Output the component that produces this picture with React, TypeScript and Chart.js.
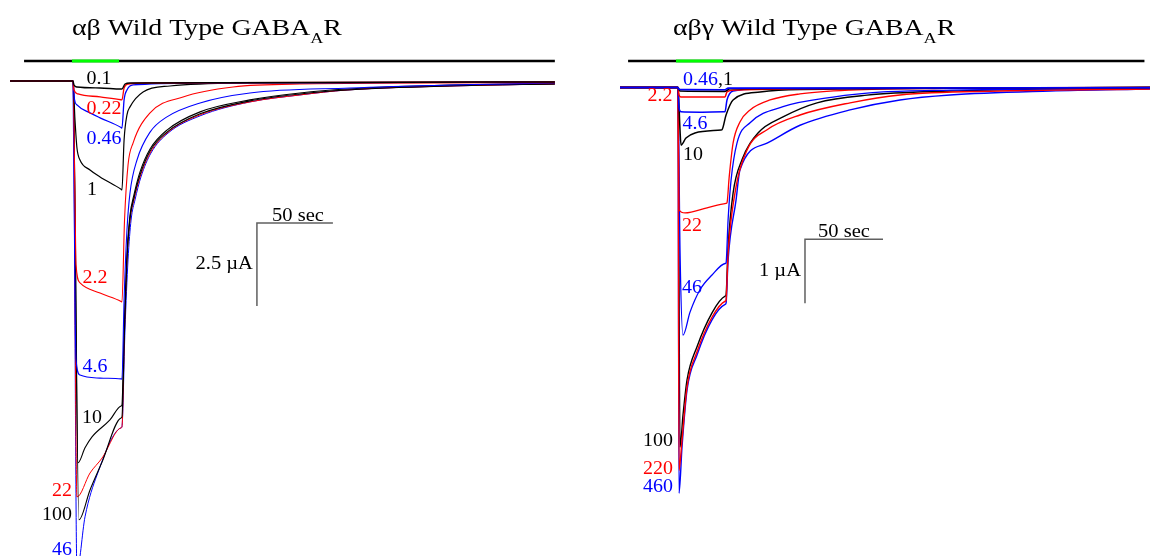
import React, { useEffect, useRef } from "react";
import { Chart, registerables } from "chart.js";

Chart.register(...registerables);

const BLACK = "#000000";
const RED = "#ff0000";
const BLUE = "#0000ff";
const GREEN = "#00ff00";
const SERIF = "'Liberation Serif', 'Times New Roman', serif";

// ---- αβ Wild Type GABA_A R : [time (s from GABA onset), current (µA)] ----
const ab_c0_1: [number, number][] = [[-41.4, 0], [0, 0], [0.66, -0.12], [2.6, -0.18], [17.8, -0.21], [31.6, -0.24], [32.2, -0.24], [34.2, -0.09], [37.5, -0.06], [317, -0.03]];
const ab_c0_22: [number, number][] = [[-41.4, 0], [0, 0], [0.66, -0.27], [3.3, -0.39], [17.8, -0.48], [31.6, -0.565], [32.2, -0.57], [33.6, -0.21], [36.2, -0.09], [50.7, -0.06], [317, -0.03]];
const ab_c0_46: [number, number][] = [[-41.4, 0], [0, 0], [1.0, -0.57], [2.6, -0.72], [11.2, -0.96], [17.8, -1.11], [31.6, -1.4], [32.2, -1.42], [33.6, -0.57], [35.5, -0.27], [39.5, -0.12], [83.6, -0.06], [317, -0.03]];
const ab_c1: [number, number][] = [[-41.4, 0], [0, 0], [1.3, -1.17], [2.6, -2.02], [4.6, -2.38], [11.2, -2.68], [17.8, -2.89], [31.6, -3.26], [32.2, -3.28], [33.6, -1.78], [35.5, -1.02], [37.5, -0.78], [46.1, -0.33], [63.8, -0.15], [116.4, -0.06], [317, -0.03]];
const ab_c2_2: [number, number][] = [[-41.4, 0], [0, 0], [1.3, -3.58], [2.0, -5.54], [4.6, -6.08], [17.8, -6.39], [31.6, -6.64], [32.2, -6.66], [33.9, -4.19], [36.2, -2.53], [39.5, -1.87], [50.7, -0.96], [72.4, -0.48], [105.3, -0.18], [149.3, -0.09], [317, -0.05]];
const ab_c4_6: [number, number][] = [[-41.4, 0], [0, 0], [1.3, -6.6], [2.0, -8.4], [4.6, -8.86], [17.8, -8.95], [31.6, -8.975], [32.2, -8.98], [33.6, -6.6], [35.5, -4.49], [37.5, -3.37], [42.1, -2.38], [50.7, -1.54], [61.8, -1.08], [83.6, -0.66], [116.4, -0.36], [182.2, -0.21], [248, -0.12], [317, -0.06]];
const ab_c10: [number, number][] = [[-41.4, 0], [0, 0], [3.3, -11.5], [7.9, -11.05], [12.5, -10.72], [24.3, -10.21], [31.6, -9.79], [32.2, -9.76], [33.6, -7.5], [35.5, -5.24], [37.5, -4.04], [40.1, -3.43], [44.1, -2.74], [50.7, -2.05], [61.8, -1.48], [83.6, -0.93], [116.4, -0.57], [149.3, -0.36], [180.3, -0.24], [248, -0.12], [317, -0.08]];
const ab_c22: [number, number][] = [[-41.4, 0], [0, 0], [2.6, -12.53], [11.2, -11.81], [19.1, -11.36], [31.6, -10.45], [32.2, -10.42], [33.9, -7.5], [35.5, -5.39], [37.5, -4.19], [40.1, -3.58], [44.1, -2.89], [50.7, -2.17], [61.8, -1.57], [83.6, -1.02], [116.4, -0.63], [149.3, -0.42], [180.3, -0.27], [248, -0.15], [317, -0.09]];
const ab_c100: [number, number][] = [[-41.4, 0], [0, 0], [3.9, -13.22], [11.2, -12.32], [19.1, -11.48], [31.6, -10.15], [32.2, -10.12], [33.9, -7.5], [35.5, -5.33], [37.5, -4.13], [40.1, -3.52], [44.1, -2.83], [50.7, -2.11], [61.8, -1.54], [83.6, -0.99], [116.4, -0.6], [149.3, -0.39], [180.3, -0.27], [248, -0.15], [317, -0.09]];
const ab_c46: [number, number][] = [[-41.4, 0], [0, 0], [2.6, -14.73], [7.9, -13.13], [15.8, -11.87], [31.6, -10.45], [32.2, -10.42], [34.2, -7.5], [36.2, -5.39], [38.2, -4.19], [40.8, -3.58], [44.7, -2.89], [51.3, -2.17], [62.5, -1.57], [83.6, -1.05], [116.4, -0.63], [149.3, -0.42], [180.3, -0.27], [248, -0.15], [317, -0.09]];

// ---- αβγ Wild Type GABA_A R ----
const abg_c0_46: [number, number][] = [[-37.2, 0], [0, 0], [0.64, -0.03], [29.5, -0.035], [30.1, -0.035], [32.1, -0.01], [302.6, -0.005]];
const abg_c1: [number, number][] = [[-37.2, 0], [0, 0], [1.28, -0.055], [29.5, -0.06], [30.1, -0.06], [33.3, -0.02], [302.6, 0]];
const abg_c2_2: [number, number][] = [[-37.2, 0], [0, 0], [0.64, -0.117], [1.92, -0.15], [29.5, -0.15], [30.1, -0.15], [31.4, -0.07], [36.5, -0.04], [78.2, -0.02], [302.6, 0]];
const abg_c4_6: [number, number][] = [[-37.2, 0], [0, 0], [0.64, -0.32], [1.92, -0.38], [14.1, -0.385], [29.5, -0.38], [30.1, -0.38], [31.4, -0.195], [35.3, -0.055], [52.6, -0.023], [302.6, 0]];
const abg_c10: [number, number][] = [[-37.2, 0], [0, 0], [1.28, -0.66], [1.92, -0.9], [5.1, -0.79], [10.9, -0.71], [27.6, -0.665], [28.2, -0.66], [30.8, -0.43], [35.3, -0.195], [52.6, -0.07], [78.2, -0.03], [302.6, 0]];
const abg_c22: [number, number][] = [[-37.2, 0], [0, 0], [0.64, -1.91], [4.5, -1.96], [18.6, -1.88], [30.8, -1.81], [31.4, -1.8], [32.8, -1.4], [35.3, -0.87], [39.7, -0.54], [46.2, -0.35], [59, -0.195], [78.2, -0.1], [110.3, -0.04], [174.4, -0.015], [302.6, 0]];
const abg_c46: [number, number][] = [[-37.2, 0], [0, 0], [1.28, -2.54], [3.2, -3.87], [7.7, -3.51], [14.1, -3.16], [21.8, -2.93], [30.2, -2.75], [30.8, -2.74], [32.1, -2.07], [34.0, -1.45], [37.8, -0.87], [46.2, -0.55], [67.3, -0.3], [99.4, -0.15], [131.4, -0.07], [174.4, -0.04], [302.6, 0]];
const abg_c100: [number, number][] = [[-37.2, 0], [0, 0], [1.28, -5.62], [3.2, -5.12], [5.77, -4.57], [12.18, -4.05], [21.8, -3.52], [30.2, -3.26], [30.8, -3.24], [32.1, -2.5], [35.3, -1.65], [41.0, -1.13], [51.3, -0.71], [67.3, -0.46], [89.1, -0.24], [121.2, -0.12], [174.4, -0.055], [238.5, -0.023], [302.6, -0.01]];
const abg_c220: [number, number][] = [[-37.2, 0], [0, 0], [0.64, -5.98], [2.56, -5.51], [5.77, -4.68], [12.18, -4.13], [21.8, -3.59], [30.2, -3.34], [30.8, -3.32], [32.1, -2.6], [36.5, -1.65], [44.2, -0.98], [57.1, -0.66], [78.2, -0.43], [110.3, -0.24], [142.3, -0.117], [206.4, -0.055], [302.6, -0.023]];
const abg_c460: [number, number][] = [[-37.2, 0], [0, 0], [0.64, -6.34], [2.56, -5.62], [5.77, -4.73], [12.18, -4.18], [21.8, -3.63], [30.2, -3.39], [30.8, -3.37], [32.1, -2.7], [37.2, -1.76], [39.7, -1.29], [57.1, -0.87], [78.2, -0.59], [110.3, -0.35], [142.3, -0.195], [174.4, -0.117], [238.5, -0.055], [302.6, -0.023]];

type Trace = { data: [number, number][]; color: string; width: number };
type Label = { text: string; color: string; x: number; y: number; align?: CanvasTextAlign };

type PanelCfg = {
  left: number;
  title: string;
  titleX: number;
  traces: Trace[];
  xRange: [number, number];
  yRange: [number, number];
  barRange: [number, number];
  stimRange: [number, number];
  barY: number;
  scaleCorner: [number, number];
  scaleSec: number;
  scaleAmp: number;
  ampLabel: string;
  secShift: number;
  labels: Label[];
};

const leftPanel: PanelCfg = {
  left: 0,
  title: "αβ Wild Type GABA",
  titleX: 72,
  traces: [
    { data: ab_c0_1, color: BLACK, width: 1.4 },
    { data: ab_c0_22, color: RED, width: 1.3 },
    { data: ab_c0_46, color: BLUE, width: 1.3 },
    { data: ab_c1, color: BLACK, width: 1.2 },
    { data: ab_c2_2, color: RED, width: 1.1 },
    { data: ab_c4_6, color: BLUE, width: 1.1 },
    { data: ab_c10, color: BLACK, width: 1.1 },
    { data: ab_c100, color: BLACK, width: 1.1 },
    { data: ab_c22, color: RED, width: 1.0 },
    { data: ab_c46, color: BLUE, width: 1.0 },
  ],
  xRange: [-48.03, 330.26],
  yRange: [-14.31, 2.44],
  barRange: [-32.2, 317],
  stimRange: [-0.7, 30.3],
  barY: 61,
  scaleCorner: [121, -4.28],
  scaleSec: 50,
  scaleAmp: 2.5,
  ampLabel: "2.5 µA",
  secShift: 3,
  labels: [
    { text: "0.1", color: BLACK, x: 99, y: 79 },
    { text: "0.22", color: RED, x: 104, y: 109 },
    { text: "0.46", color: BLUE, x: 104, y: 139 },
    { text: "1", color: BLACK, x: 92, y: 190 },
    { text: "2.2", color: RED, x: 95, y: 278 },
    { text: "4.6", color: BLUE, x: 95, y: 367 },
    { text: "10", color: BLACK, x: 92, y: 418 },
    { text: "22", color: RED, x: 62, y: 491 },
    { text: "100", color: BLACK, x: 57, y: 515 },
    { text: "46", color: BLUE, x: 62, y: 550 },
  ],
};

const rightPanel: PanelCfg = {
  left: 575,
  title: "αβγ Wild Type GABA",
  titleX: 98,
  traces: [
    { data: abg_c0_46, color: BLUE, width: 1.6 },
    { data: abg_c1, color: BLACK, width: 1.6 },
    { data: abg_c2_2, color: RED, width: 1.5 },
    { data: abg_c4_6, color: BLUE, width: 1.5 },
    { data: abg_c10, color: BLACK, width: 1.5 },
    { data: abg_c22, color: RED, width: 1.3 },
    { data: abg_c46, color: BLUE, width: 1.3 },
    { data: abg_c220, color: RED, width: 1.4 },
    { data: abg_c460, color: BLUE, width: 1.4 },
    { data: abg_c100, color: BLACK, width: 1.4 },
  ],
  xRange: [-66.03, 302.56],
  yRange: [-7.32, 1.367],
  barRange: [-32, 299],
  stimRange: [-1.3, 28.8],
  barY: 61,
  scaleCorner: [81.4, -2.37],
  scaleSec: 50,
  scaleAmp: 1,
  ampLabel: "1 µA",
  secShift: 0,
  labels: [
    { text: "0.46", color: BLUE, x: 108, y: 80, align: "left" },
    { text: ",1", color: BLACK, x: 143, y: 80, align: "left" },
    { text: "2.2", color: RED, x: 85, y: 96 },
    { text: "4.6", color: BLUE, x: 120, y: 124 },
    { text: "10", color: BLACK, x: 118, y: 155 },
    { text: "22", color: RED, x: 117, y: 226 },
    { text: "46", color: BLUE, x: 117, y: 288 },
    { text: "100", color: BLACK, x: 83, y: 441 },
    { text: "220", color: RED, x: 83, y: 469 },
    { text: "460", color: BLUE, x: 83, y: 487 },
  ],
};

// draws text horizontally stretched by sx; returns advance width
function stretchedText(ctx: CanvasRenderingContext2D, text: string, x: number, y: number, align: CanvasTextAlign, sx: number) {
  ctx.save();
  ctx.translate(x, y);
  ctx.scale(sx, 1);
  ctx.textAlign = align;
  ctx.fillText(text, 0, 0);
  const w = ctx.measureText(text).width * sx;
  ctx.restore();
  return w;
}

function overlay(cfg: PanelCfg) {
  return {
    id: "overlay",
    afterDatasetsDraw(chart: any) {
      const ctx: CanvasRenderingContext2D = chart.ctx;
      const xs = chart.scales.x;
      const ys = chart.scales.y;
      ctx.save();
      // Title with subscript
      const TS = 1.21;
      ctx.fillStyle = BLACK;
      ctx.textBaseline = "alphabetic";
      ctx.font = `23px ${SERIF}`;
      let tx = cfg.titleX;
      tx += stretchedText(ctx, cfg.title, tx, 35, "left", TS);
      ctx.font = `15px ${SERIF}`;
      tx += stretchedText(ctx, "A", tx, 43, "left", TS);
      ctx.font = `23px ${SERIF}`;
      stretchedText(ctx, "R", tx, 35, "left", TS);

      // Stimulus bar
      ctx.lineWidth = 2.6;
      ctx.strokeStyle = BLACK;
      ctx.beginPath();
      ctx.moveTo(xs.getPixelForValue(cfg.barRange[0]), cfg.barY);
      ctx.lineTo(xs.getPixelForValue(cfg.barRange[1]), cfg.barY);
      ctx.stroke();
      ctx.strokeStyle = GREEN;
      ctx.lineWidth = 3;
      ctx.beginPath();
      ctx.moveTo(xs.getPixelForValue(cfg.stimRange[0]), cfg.barY);
      ctx.lineTo(xs.getPixelForValue(cfg.stimRange[1]), cfg.barY);
      ctx.stroke();

      // Scale bar
      const cx = xs.getPixelForValue(cfg.scaleCorner[0]);
      const cy = ys.getPixelForValue(cfg.scaleCorner[1]);
      const ex = xs.getPixelForValue(cfg.scaleCorner[0] + cfg.scaleSec);
      const ey = ys.getPixelForValue(cfg.scaleCorner[1] - cfg.scaleAmp);
      ctx.strokeStyle = "#606060";
      ctx.lineWidth = 1.5;
      ctx.beginPath();
      ctx.moveTo(ex, cy);
      ctx.lineTo(cx, cy);
      ctx.lineTo(cx, ey);
      ctx.stroke();
      ctx.fillStyle = BLACK;
      ctx.font = `18px ${SERIF}`;
      ctx.textBaseline = "alphabetic";
      stretchedText(ctx, `${cfg.scaleSec} sec`, (cx + ex) / 2 + cfg.secShift, cy - 2, "center", 1.14);
      ctx.textBaseline = "middle";
      stretchedText(ctx, cfg.ampLabel, cx - 4, cy + (ey - cy) * 0.5, "right", 1.14);

      // Concentration labels
      ctx.font = `19px ${SERIF}`;
      ctx.textBaseline = "middle";
      for (const l of cfg.labels) {
        ctx.fillStyle = l.color;
        stretchedText(ctx, l.text, l.x, l.y, l.align ?? "center", 1.05);
      }
      ctx.restore();
    },
  };
}

function Panel({ cfg }: { cfg: PanelCfg }) {
  const ref = useRef<HTMLCanvasElement>(null);
  useEffect(() => {
    if (!ref.current) return;
    const chart = new Chart(ref.current, {
      type: "line",
      data: {
        datasets: cfg.traces.map((t) => ({
          data: t.data.map(([x, y]) => ({ x, y })),
          borderColor: t.color,
          borderWidth: t.width,
          pointRadius: 0,
          fill: false,
          cubicInterpolationMode: "monotone" as const,
        })),
      },
      options: {
        responsive: false,
        animation: false,
        layout: { padding: 0 },
        plugins: { legend: { display: false }, tooltip: { enabled: false }, title: { display: false } },
        events: [],
        scales: {
          x: { type: "linear", display: false, min: cfg.xRange[0], max: cfg.xRange[1] },
          y: { type: "linear", display: false, min: cfg.yRange[0], max: cfg.yRange[1] },
        },
      },
      plugins: [overlay(cfg)],
    } as any);
    return () => chart.destroy();
  }, [cfg]);
  return (
    <canvas
      ref={ref}
      width={575}
      height={556}
      style={{ position: "absolute", left: cfg.left, top: 0, width: 575, height: 556, display: "block" }}
    />
  );
}

export default function App() {
  return (
    <div style={{ position: "absolute", left: 0, top: 0, width: 1150, height: 556, background: "#ffffff", overflow: "hidden" }}>
      <Panel cfg={leftPanel} />
      <Panel cfg={rightPanel} />
    </div>
  );
}
